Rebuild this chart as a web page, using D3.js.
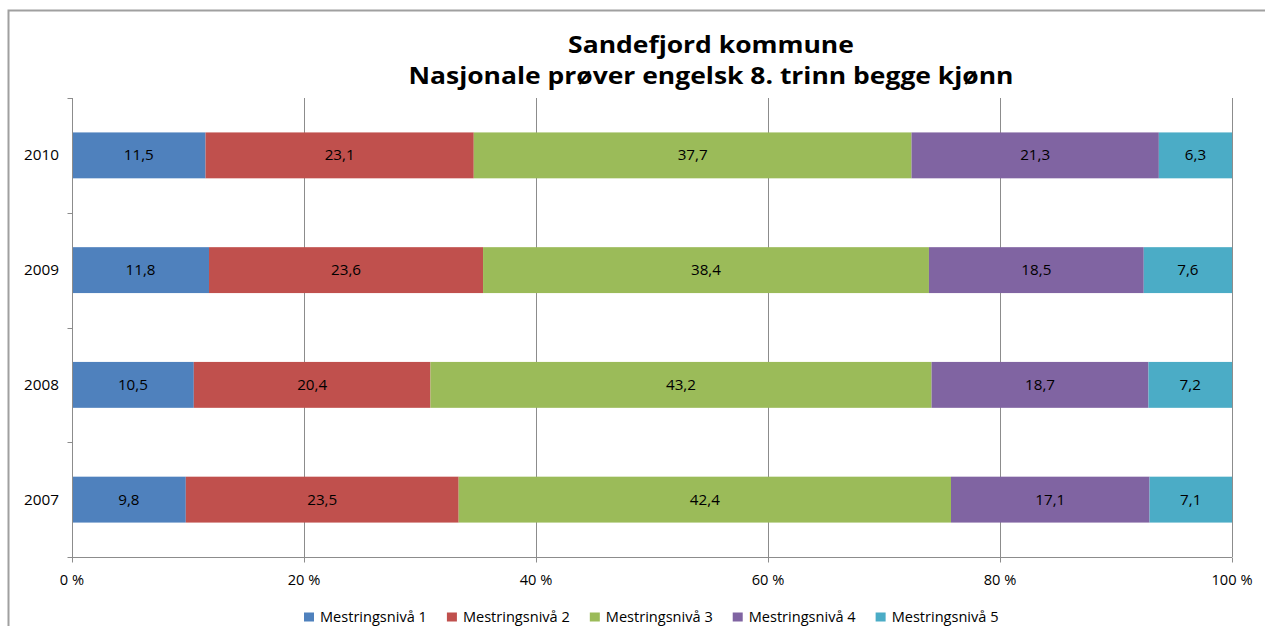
<!DOCTYPE html>
<html><head><meta charset="utf-8">
<script src="https://cdn.jsdelivr.net/npm/d3@7"></script>
<style>body{margin:0;background:#fff;} svg{display:block;} text{font-family:"Open Sans",sans-serif;}</style>
</head><body>
<svg id="c" width="1265" height="626"></svg>
<script>
const years = ["2010","2009","2008","2007"];
const seriesNames = ["Mestringsnivå 1","Mestringsnivå 2","Mestringsnivå 3","Mestringsnivå 4","Mestringsnivå 5"];
const niva1 = [11.5, 11.8, 10.5, 9.8];
const niva2 = [23.1, 23.6, 20.4, 23.5];
const niva3 = [37.7, 38.4, 43.2, 42.4];
const niva4 = [21.3, 18.5, 18.7, 17.1];
const niva5 = [6.3, 7.6, 7.2, 7.1];
const colors = ["#4F81BD","#C0504D","#9BBB59","#8064A2","#4BACC6"];
const xTicks = [0,20,40,60,80,100];
const titleLines = ["Sandefjord kommune","Nasjonale prøver engelsk 8. trinn begge kjønn"];

const rows = years.map((y,i)=>({year:y, v:[niva1[i],niva2[i],niva3[i],niva4[i],niva5[i]]}));
const svg = d3.select("#c");
const L=72, R=1232, T=98, B=557;

function textWidth(str, size, weight){
  const t = svg.append("text").attr("font-size",size).attr("font-weight",weight||"normal").text(str);
  const w = t.node().getComputedTextLength(); t.remove();
  return w;
}
function fitSize(str, target, weight){ return 100*target/textWidth(str,100,weight); }
const fsData = fitSize("10,5", 30);
const fsYear = fitSize("2010", 35);
const fsX = fitSize("100 %", 41);
const fsLeg = fitSize(seriesNames[0], 107);

// outer border
svg.append("path").attr("d",`M8.5,640 V10.5 H1270`).attr("fill","none").attr("stroke","#a0a0a0").attr("stroke-width",2);

// title: fixed height, stretched to the reference width
const fsTitle = 23.5;
const stretch = 605 / textWidth(titleLines[1], fsTitle, "bold");
svg.selectAll(".title").data(titleLines).enter().append("text")
  .attr("x",711).attr("y",(d,i)=>53+i*31).attr("text-anchor","middle")
  .attr("font-size",fsTitle).attr("font-weight","bold").attr("fill","#000")
  .attr("textLength",d=>textWidth(d,fsTitle,"bold")*stretch).attr("lengthAdjust","spacingAndGlyphs")
  .text(d=>d);

const x = d3.scaleLinear().domain([0,100]).range([L,R]);
const y = d3.scaleBand().domain(years).range([T,B]).paddingInner(0.6).paddingOuter(0.3);
const yb = d3.scaleBand().domain(years).range([T,B]);

// gridlines
svg.append("g").selectAll("line").data(xTicks.slice(1)).enter().append("line")
  .attr("x1",d=>x(d)+0.5).attr("x2",d=>x(d)+0.5).attr("y1",T).attr("y2",B)
  .attr("stroke","#8c8c8c").attr("stroke-width",1);

// bars
const stacks = rows.map(r=>{let c=0;return r.v.map((v,k)=>{const o={year:r.year,k,v,x0:c,x1:c+v};c+=v;return o;});}).flat();
const totals = {}; rows.forEach(r=>totals[r.year]=r.v.reduce((a,b)=>a+b,0));
const px = (d,v)=>x(v/totals[d.year]*100);
svg.append("g").selectAll("rect").data(stacks).enter().append("rect")
  .attr("x",d=>px(d,d.x0)).attr("width",d=>px(d,d.x1)-px(d,d.x0))
  .attr("y",d=>y(d.year)).attr("height",y.bandwidth()).attr("fill",d=>colors[d.k]);
svg.append("g").selectAll("text").data(stacks).enter().append("text")
  .attr("x",d=>px(d,(d.x0+d.x1)/2)).attr("y",d=>y(d.year)+y.bandwidth()/2+5)
  .attr("text-anchor","middle").attr("font-size",fsData).attr("fill","#000")
  .text(d=>d.v.toFixed(1).replace(".",","));

// y axis
const ya = svg.append("g").attr("transform",`translate(${L+0.5},0)`);
ya.append("line").attr("y1",T).attr("y2",B).attr("stroke","#8c8c8c");
const yEdges = years.map(d=>yb(d)).concat([B]);
ya.selectAll(".t").data(yEdges).enter().append("line").attr("x1",-5).attr("x2",0)
  .attr("y1",d=>Math.round(d)+0.5).attr("y2",d=>Math.round(d)+0.5).attr("stroke","#8c8c8c");
ya.selectAll("text").data(years).enter().append("text").attr("x",-13.5).attr("y",d=>y(d)+y.bandwidth()/2+5)
  .attr("text-anchor","end").attr("font-size",fsYear).text(d=>d);

// x axis
const xa = svg.append("g").attr("transform",`translate(0,${B+0.5})`);
xa.append("line").attr("x1",L).attr("x2",R).attr("stroke","#8c8c8c");
xa.selectAll(".t").data(xTicks).enter().append("line").attr("x1",d=>x(d)+0.5).attr("x2",d=>x(d)+0.5).attr("y1",0).attr("y2",5).attr("stroke","#8c8c8c");
xa.selectAll("text").data(xTicks).enter().append("text").attr("x",d=>x(d)).attr("y",27.5)
  .attr("text-anchor","middle").attr("font-size",fsX).text(d=>d+" %");

// legend
const lg = svg.append("g").attr("transform","translate(304,612.5)");
let cx = 0;
seriesNames.forEach((s,i)=>{
  const g = lg.append("g").attr("transform",`translate(${cx},0)`);
  g.append("rect").attr("width",10).attr("height",9).attr("fill",colors[i]);
  const t = g.append("text").attr("x",16).attr("y",9.5).attr("font-size",fsLeg).text(s);
  cx += 16 + t.node().getComputedTextLength() + 20;
});
</script>
</body></html>
